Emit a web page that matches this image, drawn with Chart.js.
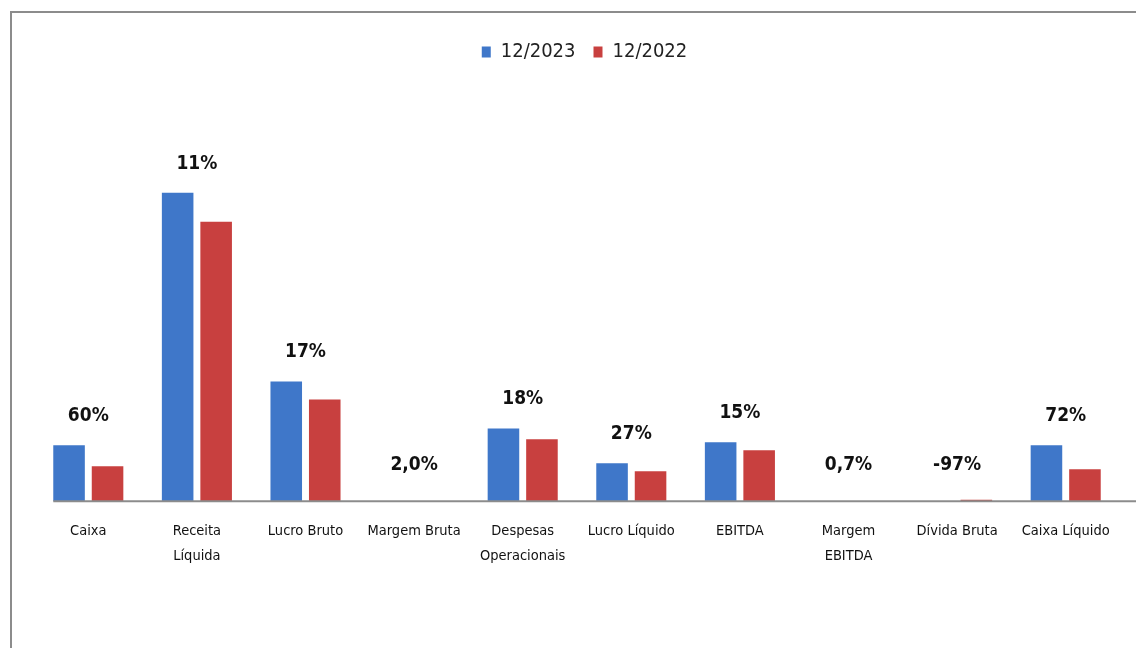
<!DOCTYPE html>
<html>
<head>
<meta charset="utf-8">
<script src="https://cdn.jsdelivr.net/npm/chart.js@4.4.1/dist/chart.umd.min.js"></script>
<style>
  html, body { margin: 0; padding: 0; background: #ffffff; }
  #wrap { width: 1136px; height: 648px; }
</style>
</head>
<body>
<div id="wrap"><canvas id="c" width="1136" height="648"></canvas></div>
<script>
const categories = [
  "Caixa",
  ["Receita", "Líquida"],
  "Lucro Bruto",
  "Margem Bruta",
  ["Despesas", "Operacionais"],
  "Lucro Líquido",
  "EBITDA",
  ["Margem", "EBITDA"],
  "Dívida Bruta",
  "Caixa Líquido"
];
const seriesNames = ["12/2023", "12/2022"];
const values2023 = [56, 309, 120, 0.2, 73, 38, 59, 0.2, 0.05, 56];
const values2022 = [35, 280, 102, 0.2, 62, 30, 51, 0.2, 1.5, 32];
const changeLabels = ["60%", "11%", "17%", "2,0%", "18%", "27%", "15%", "0,7%", "-97%", "72%"];

const FONT = "'Liberation Sans Narrow', 'DejaVu Sans Condensed', 'Open Sans', sans-serif";
const BLUE = "#3F77C9";
const RED = "#C8403F";

const framePlugin = {
  id: "frame",
  beforeDraw(chart) {
    const ctx = chart.ctx;
    ctx.save();
    ctx.strokeStyle = "#8c8c8c";
    ctx.lineWidth = 2;
    ctx.beginPath();
    ctx.moveTo(11, chart.height);
    ctx.lineTo(11, 12);
    ctx.lineTo(chart.width, 12);
    ctx.stroke();
    ctx.restore();
  }
};

const baselinePlugin = {
  id: "baseline",
  afterDatasetsDraw(chart) {
    const ctx = chart.ctx;
    const y = chart.scales.y.getPixelForValue(0);
    const first = chart.getDatasetMeta(0).data[0];
    const x0 = first.x - first.width / 2;
    ctx.save();
    ctx.strokeStyle = "#8c8c8c";
    ctx.lineWidth = 2;
    ctx.beginPath();
    ctx.moveTo(x0, y);
    ctx.lineTo(chart.width, y);
    ctx.stroke();
    ctx.restore();
  }
};

const changeLabelPlugin = {
  id: "changeLabels",
  afterDatasetsDraw(chart) {
    const ctx = chart.ctx;
    const m0 = chart.getDatasetMeta(0).data;
    const m1 = chart.getDatasetMeta(1).data;
    const base = chart.scales.y.getPixelForValue(0);
    ctx.save();
    ctx.font = "bold 19px " + FONT;
    ctx.fillStyle = "#111111";
    ctx.textAlign = "center";
    ctx.textBaseline = "middle";
    changeLabels.forEach((t, i) => {
      const x = (m0[i].x + m1[i].x) / 2;
      const top = Math.min(m0[i].y, m1[i].y);
      const y = Math.min(top - 29, base - 36);
      ctx.fillText(t, x, y);
    });
    ctx.restore();
  }
};

new Chart(document.getElementById("c"), {
  type: "bar",
  data: {
    labels: categories,
    datasets: [
      { label: seriesNames[0], data: values2023, backgroundColor: BLUE },
      { label: seriesNames[1], data: values2022, backgroundColor: RED }
    ]
  },
  options: {
    responsive: false,
    devicePixelRatio: 1,
    animation: false,
    layout: { padding: { left: 34, right: 1, top: 24, bottom: 70 } },
    datasets: { bar: { categoryPercentage: 0.709, barPercentage: 0.82 } },
    plugins: {
      legend: {
        position: "top",
        labels: {
          boxWidth: 9,
          boxHeight: 11,
          padding: 18,
          color: "#222222",
          font: { family: FONT, size: 20 }
        }
      },
      tooltip: { enabled: false }
    },
    scales: {
      x: {
        grid: { display: false },
        border: { display: false },
        ticks: {
          color: "#111111",
          padding: 9,
          maxRotation: 0,
          autoSkip: false,
          font: { family: FONT, size: 14.5, lineHeight: 1.75 }
        }
      },
      y: {
        position: "right",
        min: 0,
        max: 430,
        display: true,
        grid: { display: false },
        border: { display: false },
        ticks: { display: false },
        afterFit(scale) { scale.width = 15; }
      }
    }
  },
  plugins: [framePlugin, baselinePlugin, changeLabelPlugin]
});
</script>
</body>
</html>
